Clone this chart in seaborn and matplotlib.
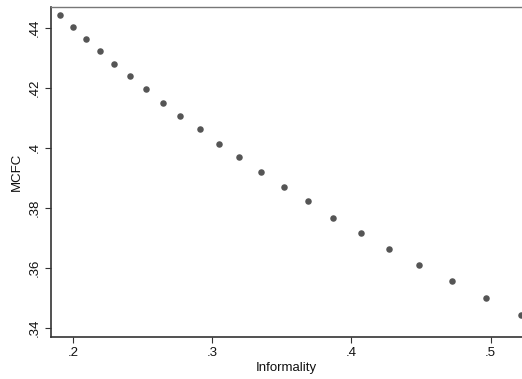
import matplotlib
matplotlib.use("Agg")
import matplotlib.pyplot as plt
import seaborn as sns
import pandas as pd
from matplotlib.ticker import FuncFormatter

informality = [0.1904, 0.1996, 0.2089, 0.2192, 0.2295, 0.2405, 0.2525, 0.2645,
               0.2769, 0.2909, 0.3045, 0.3191, 0.3347, 0.3515, 0.3687, 0.3869,
               0.4066, 0.4267, 0.4485, 0.4720, 0.4965, 0.5219]
mcfc = [0.4442, 0.4404, 0.4363, 0.4323, 0.4281, 0.4239, 0.4197, 0.4151,
        0.4108, 0.4062, 0.4014, 0.3969, 0.3921, 0.3870, 0.3822, 0.3768,
        0.3717, 0.3663, 0.3611, 0.3556, 0.3500, 0.3443]
x_ticks = [0.2, 0.3, 0.4, 0.5]
y_ticks = [0.34, 0.36, 0.38, 0.40, 0.42, 0.44]

df = pd.DataFrame({"Informality": informality, "MCFC": mcfc})

sns.set_style("white")
plt.rcParams["font.family"] = ["Liberation Sans", "DejaVu Sans"]

fig = plt.figure(figsize=(5.22, 3.79), dpi=100)
ax = fig.add_axes([51/522, 42/379, 1 - 51/522, 330/379])

sns.scatterplot(data=df, x="Informality", y="MCFC", ax=ax, color="#555555",
                s=22, linewidth=0, clip_on=True)

ax.set_xlim(0.18397, 0.5226)
ax.set_ylim(0.337, 0.447)
ax.set_xticks(x_ticks)
ax.set_yticks(y_ticks)

def fmt(v, pos):
    s = f"{v:.2f}".rstrip("0").rstrip(".")
    if s.startswith("0"):
        s = s[1:]
    return s

ax.xaxis.set_major_formatter(FuncFormatter(fmt))
ax.yaxis.set_major_formatter(FuncFormatter(fmt))

ax.tick_params(axis="both", which="major", direction="out", length=4, width=0.8,
               color="#333333", labelsize=9.5, labelcolor="#111111", bottom=True, left=True)
for lab in ax.get_yticklabels():
    lab.set_rotation(90)
    lab.set_va("center")

ax.set_xlabel("Informality", fontsize=9.5, color="#111111", labelpad=2)
ax.set_ylabel("MCFC", fontsize=9.5, color="#111111", labelpad=4)

for side in ["left", "bottom"]:
    ax.spines[side].set_color("#333333")
    ax.spines[side].set_linewidth(1.2)
ax.spines["top"].set_color("#777777")
ax.spines["top"].set_linewidth(1.0)
ax.spines["right"].set_visible(False)

fig.savefig("out.png", dpi=100)
